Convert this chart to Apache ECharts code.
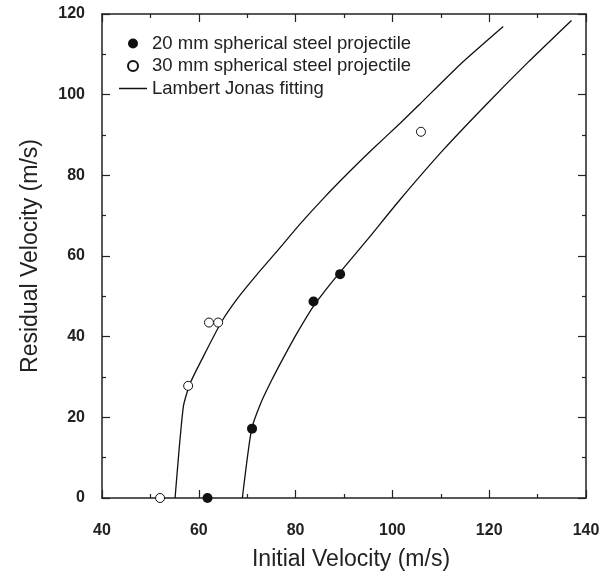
<!DOCTYPE html>
<html>
<head>
<meta charset="utf-8">
<script src="https://cdn.jsdelivr.net/npm/echarts@6/dist/echarts.min.js"></script>
<style>html,body{margin:0;padding:0;background:#fff}#c{width:605px;height:577px}</style>
</head>
<body>
<div id="c"></div>
<script>
// Measured data
const filledName = '20 mm spherical steel projectile';
const openName = '30 mm spherical steel projectile';
const fitName = 'Lambert Jonas fitting';
const filledX = [61.8, 71.0, 83.7, 89.2];
const filledY = [0, 17.2, 48.7, 55.5];
const openX = [52.0, 57.8, 62.1, 64.0, 105.9];
const openY = [0, 27.8, 43.5, 43.5, 90.8];
const fit30X = [55.1, 56.8, 58.2, 60.9, 64.7, 68.0, 72.0, 76.4, 80.9, 86.0, 91.2, 95.7, 101.6, 105.7, 114.0, 122.9];
const fit30Y = [0, 22.6, 28.4, 35.0, 43.7, 49.5, 55.4, 61.5, 67.9, 74.6, 81.0, 86.3, 92.9, 97.7, 107.5, 116.9];
const fit20X = [69.0, 70.9, 72.8, 75.1, 77.5, 80.5, 83.7, 87.0, 89.2, 95.0, 101.6, 110.5, 119.5, 128.0, 137.0];
const fit20Y = [0, 17.0, 23.5, 29.3, 34.8, 41.3, 47.6, 52.8, 56.0, 64.3, 74.0, 86.3, 97.7, 108.0, 118.4];
const xMin = 40, xMax = 140, xStep = 20;
const yMin = 0, yMax = 120, yStep = 20;

const zip = (xs, ys) => xs.map((x, i) => [x, ys[i]]);
const FONT = 'Liberation Sans';
const AX = '#222';

function mkX(pos, labels) {
  return {
    type: 'value', position: pos, min: xMin, max: xMax, interval: xStep,
    name: labels ? 'Initial Velocity (m/s)' : '', nameLocation: 'middle', nameGap: 50,
    nameTextStyle: {fontFamily: FONT, fontSize: 23, color: AX, padding: [0, 0, 0, 14]},
    axisLine: {show: true, onZero: false, lineStyle: {color: AX, width: 1.5}},
    axisTick: {show: true, inside: true, length: 8, lineStyle: {color: AX, width: 1.2}},
    minorTick: {show: true, splitNumber: 2, length: 4, lineStyle: {color: AX, width: 1.2}},
    axisLabel: {show: labels, margin: 25, fontFamily: FONT, fontSize: 16, fontWeight: 'bold', color: AX},
    splitLine: {show: false}
  };
}
function mkY(pos, labels) {
  return {
    type: 'value', position: pos, min: yMin, max: yMax, interval: yStep,
    name: labels ? 'Residual Velocity (m/s)' : '', nameLocation: 'middle', nameGap: 60,
    nameTextStyle: {fontFamily: FONT, fontSize: 23, color: AX},
    axisLine: {show: true, onZero: false, lineStyle: {color: AX, width: 1.5}},
    axisTick: {show: true, inside: true, length: 8, lineStyle: {color: AX, width: 1.2}},
    minorTick: {show: true, splitNumber: 2, length: 4, lineStyle: {color: AX, width: 1.2}},
    axisLabel: {show: labels, margin: 17, fontFamily: FONT, fontSize: 16, fontWeight: 'bold', color: AX},
    splitLine: {show: false}
  };
}

const chart = echarts.init(document.getElementById('c'), null, {renderer: 'canvas'});
chart.setOption({
  animation: false,
  backgroundColor: '#fff',
  grid: {left: 102, right: 19, top: 14, bottom: 79},
  xAxis: [mkX('bottom', true), mkX('top', false)],
  yAxis: [mkY('left', true), mkY('right', false)],
  legend: {
    orient: 'vertical', left: 119, top: 34, padding: 0, itemWidth: 28, itemHeight: 10, itemGap: 3.5,
    textStyle: {fontFamily: FONT, fontSize: 18.5, color: AX},
    data: [
      {name: filledName},
      {name: openName},
      {name: fitName, icon: 'path://M0,0H28V1.5H0Z', itemStyle: {color: '#111'}}
    ]
  },
  series: [
    {name: fitName, type: 'line', data: zip(fit30X, fit30Y), symbol: 'none', smooth: 0.2,
     lineStyle: {color: '#111', width: 1.3}, itemStyle: {color: '#111'}, z: 2},
    {name: fitName, type: 'line', data: zip(fit20X, fit20Y), symbol: 'none', smooth: 0.2,
     lineStyle: {color: '#111', width: 1.3}, itemStyle: {color: '#111'}, z: 2},
    {name: filledName, type: 'scatter', data: zip(filledX, filledY), symbol: 'circle', symbolSize: 10,
     itemStyle: {color: '#111', opacity: 1}, z: 3},
    {name: openName, type: 'scatter', data: zip(openX, openY), symbol: 'circle', symbolSize: 9,
     itemStyle: {color: '#fff', borderColor: '#111', borderWidth: 1, opacity: 1}, z: 3}
  ]
});
</script>
</body>
</html>
